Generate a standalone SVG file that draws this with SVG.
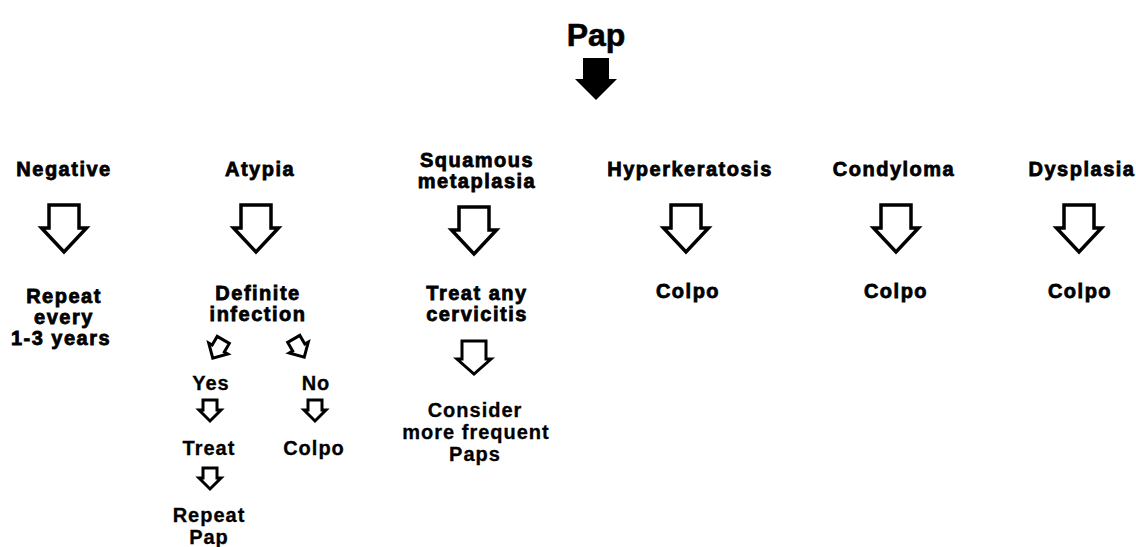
<svg xmlns="http://www.w3.org/2000/svg" xmlns:xlink="http://www.w3.org/1999/xlink" width="1136" height="547" viewBox="0 0 1136 547">
<style>
  text { font-family: "Liberation Sans", Arial, Helvetica, sans-serif; font-weight: bold; fill: #000; text-anchor: middle; }
  .hd { font-size: 20px; letter-spacing: 1.5px; stroke: #000; stroke-width: 0.8px; }
  .sm { font-size: 20px; letter-spacing: 1px; stroke: #000; stroke-width: 0.3px; }
  .title { font-size: 32px; stroke: #000; stroke-width: 0.6px; }
  .hollow { fill: #fff; stroke: #000; stroke-width: 3.5; stroke-linejoin: miter; }
  .hollowS { fill: #fff; stroke: #000; stroke-width: 3; stroke-linejoin: miter; }
</style>
<defs>
  <path id="big" d="M-15,0 H15 V23 H22.5 L0,47 L-22.5,23 H-15 Z"/>
  <path id="med" d="M-12,0 H12 V18 H17 L0,33 L-17,18 H-12 Z"/>
  <path id="small" d="M-7,0 H7 V10 H11 L0,21 L-11,10 H-7 Z"/>
</defs>
<rect width="1136" height="547" fill="#fff"/>

<g id="pap">
  <text class="title" x="596" y="46">Pap</text>
</g>

<g id="connectors">
  <path d="M583,58 H609 V79 H617 L596,100 L575,79 H583 Z" fill="#000"/>
  <use href="#big" class="hollow" x="64" y="205"/>
  <use href="#big" class="hollow" x="256" y="205"/>
  <use href="#big" class="hollow" x="474" y="207"/>
  <use href="#big" class="hollow" x="686" y="205"/>
  <use href="#big" class="hollow" x="896" y="205"/>
  <use href="#big" class="hollow" x="1079" y="205"/>
  <use href="#med" class="hollowS" x="474" y="341"/>
  <use href="#small" class="hollowS" transform="translate(218,349) rotate(30) translate(0,-10.5)"/>
  <use href="#small" class="hollowS" transform="translate(299,348) rotate(-30) translate(0,-10.5)"/>
  <use href="#small" class="hollowS" x="210" y="400"/>
  <use href="#small" class="hollowS" x="315" y="400"/>
  <use href="#small" class="hollowS" x="210" y="468"/>
</g>

<g id="negative">
  <text class="hd" x="64" y="176">Negative</text>
  <text class="hd" x="64" y="303">Repeat</text>
  <text class="hd" x="64" y="324">every</text>
  <text class="hd" x="61" y="345">1-3 years</text>
</g>

<g id="atypia">
  <text class="hd" x="260" y="176">Atypia</text>
  <text class="hd" x="258" y="300">Definite</text>
  <text class="hd" x="258" y="321">infection</text>
</g>

<g id="atypia-yes">
  <text class="sm" x="211" y="390">Yes</text>
  <text class="sm" x="209" y="455">Treat</text>
  <text class="sm" x="209" y="522">Repeat</text>
  <text class="sm" x="209" y="544">Pap</text>
</g>

<g id="atypia-no">
  <text class="sm" x="316" y="390">No</text>
  <text class="sm" x="314" y="455">Colpo</text>
</g>

<g id="squamous">
  <text class="hd" x="477" y="167">Squamous</text>
  <text class="hd" x="477" y="188">metaplasia</text>
  <text class="hd" x="477" y="300">Treat any</text>
  <text class="hd" x="477" y="321">cervicitis</text>
  <text class="sm" x="475" y="417">Consider</text>
  <text class="sm" x="476" y="439">more frequent</text>
  <text class="sm" x="475" y="461">Paps</text>
</g>

<g id="hyperkeratosis">
  <text class="hd" x="690" y="176">Hyperkeratosis</text>
  <text class="hd" x="688" y="298">Colpo</text>
</g>

<g id="condyloma">
  <text class="hd" x="894" y="176">Condyloma</text>
  <text class="hd" x="896" y="298">Colpo</text>
</g>

<g id="dysplasia">
  <text class="hd" x="1082" y="176">Dysplasia</text>
  <text class="hd" x="1080" y="298">Colpo</text>
</g>
</svg>
